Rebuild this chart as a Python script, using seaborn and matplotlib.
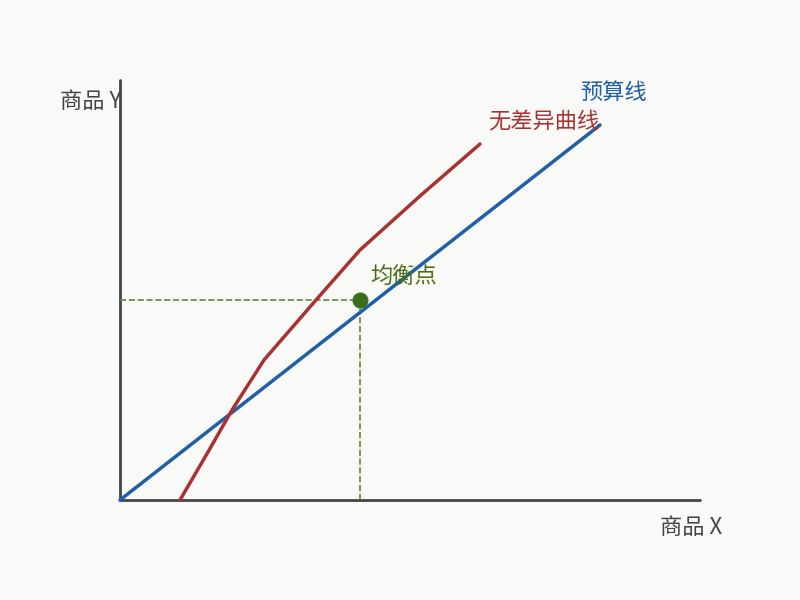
import matplotlib
matplotlib.use("Agg")
import matplotlib.pyplot as plt
import seaborn as sns
import pandas as pd

sns.set_theme(style="white")
plt.rcParams['font.family'] = ['Noto Sans CJK SC', 'DejaVu Sans']

budget_x = [0, 12]
budget_y = [0, 9.375]
indiff_x = [1.5, 2.2, 2.8, 3.6, 4.9, 6.0, 7.5, 9.0]
indiff_y = [0.0, 1.2, 2.25, 3.5, 5.0, 6.25, 7.6, 8.9]
eq_x, eq_y = 6.0, 5.0

bg = "#f9f9f7"
fig = plt.figure(figsize=(8, 6), dpi=100, facecolor=bg)
ax = fig.add_axes([0, 0, 1, 1])
ax.set_facecolor(bg)
ax.set_xlim(-3, 17)
ax.set_ylim(-2.5, 12.5)
ax.axis("off")

ax.plot([0, 14.5], [0, 0], color="#444444", lw=2)
ax.plot([0, 0], [0, 10.5], color="#444444", lw=2)

ax.plot([eq_x, eq_x], [0, eq_y], ls="--", color="#5a8a3a", lw=1.2)
ax.plot([0, eq_x], [eq_y, eq_y], ls="--", color="#5a8a3a", lw=1.2)

sns.lineplot(data=pd.DataFrame({"x": budget_x, "y": budget_y}), x="x", y="y",
             ax=ax, color="#1f5fa8", lw=2.5)
sns.lineplot(data=pd.DataFrame({"x": indiff_x, "y": indiff_y}), x="x", y="y",
             ax=ax, color="#a83232", lw=2.5, sort=False)
ax.scatter([eq_x], [eq_y], s=110, color="#3a6e1a", zorder=5)
ax.set_xlim(-3, 17); ax.set_ylim(-2.5, 12.5)

ax.text(-1.5, 9.95, "商品 Y", fontsize=16, color="#444444", va="center")
ax.text(13.5, -0.7, "商品 X", fontsize=16, color="#444444", va="center")
ax.text(11.5, 10.2, "预算线", fontsize=16, color="#1f5fa8", va="center")
ax.text(9.2, 9.45, "无差异曲线", fontsize=16, color="#a83232", va="center")
ax.text(6.25, 5.6, "均衡点", fontsize=16, color="#4a6e10", va="center")

fig.savefig("out.png", dpi=100, facecolor=bg)
